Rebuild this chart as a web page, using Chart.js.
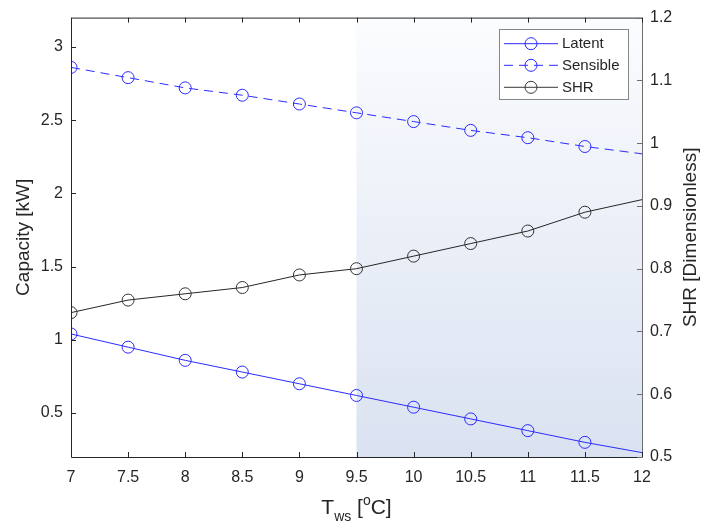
<!DOCTYPE html>
<html>
<head>
<meta charset="utf-8">
<script src="https://cdn.jsdelivr.net/npm/chart.js@4"></script>
<style>
  body { margin: 0; background: #fff; }
  #wrap { width: 701px; height: 523px; }
</style>
</head>
<body>
<div id="wrap"><canvas id="my-chart" width="701" height="523"></canvas></div>
<script>
'use strict';

/* DATA */
let tws = [7, 7.5, 8, 8.5, 9, 9.5, 10, 10.5, 11, 11.5, 12];
let latent = [1.04, 0.95, 0.86, 0.78, 0.70, 0.62, 0.54, 0.46, 0.38, 0.30, 0.23];
let sensible = [2.86, 2.79, 2.72, 2.67, 2.61, 2.55, 2.49, 2.43, 2.38, 2.32, 2.27];
let shr = [0.73, 0.75, 0.76, 0.77, 0.79, 0.80, 0.82, 0.84, 0.86, 0.89, 0.91];
let seriesNames = ['Latent', 'Sensible', 'SHR'];
let xTicks = [7, 7.5, 8, 8.5, 9, 9.5, 10, 10.5, 11, 11.5, 12];
let leftTicks = [0.5, 1, 1.5, 2, 2.5, 3];
let rightTicks = [0.5, 0.6, 0.7, 0.8, 0.9, 1, 1.1, 1.2];
let shadeStart = 9.5;

/* STYLE */
const FONT = "'Liberation Sans', Arial, Helvetica, sans-serif";
const TEXT = '#262626';
const BLUE = '#2b2bff';
const DARK = '#262626';
const DASH = [9, 6];

function pts(arr) {
  return arr.map((v, i) => ({ x: tws[i], y: v }));
}
// no marker on the final point
let markerSize = tws.map((v, i) => (i === tws.length - 1 ? 0 : 6));

let canvasElem = document.getElementById('my-chart').getContext('2d');

/* PLUGINS */
let shadePlugin = {
  id: 'shade',
  beforeDatasetsDraw(chart) {
    let { ctx, chartArea, scales } = chart;
    let x0 = scales.x.getPixelForValue(shadeStart);
    let g = ctx.createLinearGradient(0, chartArea.top, 0, chartArea.bottom);
    g.addColorStop(0, '#fbfcfe');
    g.addColorStop(1, '#dae2f1');
    ctx.save();
    ctx.fillStyle = g;
    ctx.fillRect(x0, chartArea.top, chartArea.right - x0, chartArea.bottom - chartArea.top);
    ctx.restore();
  },
};

let framePlugin = {
  id: 'frame',
  afterDraw(chart) {
    let { ctx, chartArea, scales } = chart;
    let { left, right, top, bottom } = chartArea;
    ctx.save();
    ctx.lineWidth = 1;

    // box
    ctx.strokeStyle = DARK;
    ctx.beginPath();
    ctx.moveTo(left + 0.5, bottom + 0.5);
    ctx.lineTo(left + 0.5, top + 0.5);
    ctx.lineTo(right + 0.5, top + 0.5);
    ctx.moveTo(left + 0.5, bottom + 0.5);
    ctx.lineTo(right + 0.5, bottom + 0.5);
    ctx.stroke();
    ctx.strokeStyle = '#6e6e6e';
    ctx.beginPath();
    ctx.moveTo(right + 0.5, top + 0.5);
    ctx.lineTo(right + 0.5, bottom + 0.5);
    ctx.stroke();

    // inward ticks
    ctx.strokeStyle = DARK;
    ctx.beginPath();
    xTicks.forEach((v) => {
      let px = Math.round(scales.x.getPixelForValue(v)) + 0.5;
      ctx.moveTo(px, bottom);
      ctx.lineTo(px, bottom - 5);
      ctx.moveTo(px, top);
      ctx.lineTo(px, top + 5);
    });
    leftTicks.forEach((v) => {
      let py = Math.round(scales.y.getPixelForValue(v)) + 0.5;
      ctx.moveTo(left, py);
      ctx.lineTo(left + 5, py);
    });
    ctx.stroke();
    ctx.strokeStyle = '#6e6e6e';
    ctx.beginPath();
    rightTicks.forEach((v) => {
      let py = Math.round(scales.y1.getPixelForValue(v)) + 0.5;
      ctx.moveTo(right, py);
      ctx.lineTo(right - 5, py);
    });
    ctx.stroke();

    // axis titles
    ctx.fillStyle = TEXT;
    ctx.font = '19px ' + FONT;
    ctx.textAlign = 'center';
    ctx.textBaseline = 'middle';
    let midY = (top + bottom) / 2;
    ctx.save();
    ctx.translate(24, midY);
    ctx.rotate(-Math.PI / 2);
    ctx.fillText('Capacity [kW]', 0, 0);
    ctx.restore();
    ctx.save();
    ctx.translate(691, midY);
    ctx.rotate(-Math.PI / 2);
    ctx.fillText('SHR [Dimensionless]', 0, 0);
    ctx.restore();

    // x title: T_ws [^oC]
    let big = '21px ' + FONT;
    let small = '14px ' + FONT;
    let parts = [
      { t: 'T', f: big, dy: 0 },
      { t: 'ws', f: small, dy: 7 },
      { t: ' [', f: big, dy: 0 },
      { t: 'o', f: small, dy: -9 },
      { t: 'C]', f: big, dy: 0 },
    ];
    let total = 0;
    parts.forEach((p) => {
      ctx.font = p.f;
      p.w = ctx.measureText(p.t).width;
      total += p.w;
    });
    let x = (left + right) / 2 - total / 2;
    let base = 514;
    ctx.textAlign = 'left';
    ctx.textBaseline = 'alphabetic';
    parts.forEach((p) => {
      ctx.font = p.f;
      ctx.fillText(p.t, x, base + p.dy);
      x += p.w;
    });
    ctx.restore();
  },
};

let legendPlugin = {
  id: 'boxLegend',
  afterDraw(chart) {
    let ctx = chart.ctx;
    let bx = 499.5, by = 29.5, bw = 129, bh = 70;
    let rows = [43.7, 65.3, 87.3];
    let colors = [BLUE, BLUE, '#3a3a3a'];
    let dashes = [[], DASH, []];
    ctx.save();
    ctx.fillStyle = '#ffffff';
    ctx.fillRect(bx, by, bw, bh);
    ctx.strokeStyle = '#858585';
    ctx.lineWidth = 1;
    ctx.strokeRect(bx, by, bw, bh);
    seriesNames.forEach((name, i) => {
      let y = rows[i];
      ctx.strokeStyle = colors[i];
      ctx.setLineDash(dashes[i]);
      ctx.beginPath();
      ctx.moveTo(504, y);
      ctx.lineTo(558, y);
      ctx.stroke();
      ctx.setLineDash([]);
      ctx.beginPath();
      ctx.arc(531, y, 6, 0, Math.PI * 2);
      ctx.stroke();
      ctx.fillStyle = TEXT;
      ctx.font = '15px ' + FONT;
      ctx.textAlign = 'left';
      ctx.textBaseline = 'middle';
      ctx.fillText(name, 562, y + 0.5);
    });
    ctx.restore();
  },
};

/* CHART */
function renderChart() {
  Chart.defaults.font.family = FONT;
  Chart.defaults.font.size = 16;
  Chart.defaults.color = TEXT;

  let myChartObj = {
    type: 'line',
    data: {
      datasets: [
        {
          label: seriesNames[0],
          data: pts(latent),
          yAxisID: 'y',
          borderColor: BLUE,
          borderWidth: 1,
          pointRadius: markerSize,
          pointBorderColor: BLUE,
          pointBackgroundColor: 'rgba(0,0,0,0)',
          pointBorderWidth: 1,
          tension: 0,
        },
        {
          label: seriesNames[1],
          data: pts(sensible),
          yAxisID: 'y',
          borderColor: BLUE,
          borderWidth: 1,
          borderDash: DASH,
          pointRadius: markerSize,
          pointBorderColor: BLUE,
          pointBackgroundColor: 'rgba(0,0,0,0)',
          pointBorderWidth: 1,
          tension: 0,
        },
        {
          label: seriesNames[2],
          data: pts(shr),
          yAxisID: 'y1',
          borderColor: DARK,
          borderWidth: 1,
          pointRadius: markerSize,
          pointBorderColor: '#333333',
          pointBackgroundColor: 'rgba(0,0,0,0)',
          pointBorderWidth: 1,
          tension: 0,
        },
      ],
    },
    options: {
      responsive: false,
      animation: false,
      layout: {
        padding: { top: 15, left: 0, right: 0, bottom: 0 },
      },
      plugins: {
        legend: { display: false },
        tooltip: { enabled: false },
      },
      scales: {
        x: {
          type: 'linear',
          min: 7,
          max: 12,
          afterBuildTicks: (s) => { s.ticks = xTicks.map((v) => ({ value: v })); },
          afterFit: (s) => { s.height = 66; },
          grid: { display: false, drawTicks: false },
          border: { display: false },
          ticks: { padding: 11, maxRotation: 0, callback: (v) => String(v) },
        },
        y: {
          position: 'left',
          min: 0.2,
          max: 3.2,
          afterBuildTicks: (s) => { s.ticks = leftTicks.map((v) => ({ value: v })); },
          afterFit: (s) => { s.width = 71; },
          grid: { display: false, drawTicks: false },
          border: { display: false },
          ticks: { padding: 8, callback: (v) => String(v) },
        },
        y1: {
          position: 'right',
          min: 0.5,
          max: 1.2,
          afterBuildTicks: (s) => { s.ticks = rightTicks.map((v) => ({ value: v })); },
          afterFit: (s) => { s.width = 59; },
          grid: { display: false, drawTicks: false },
          border: { display: false },
          ticks: { padding: 8, callback: (v) => String(v) },
        },
      },
    },
    plugins: [shadePlugin, framePlugin, legendPlugin],
  };
  new Chart(canvasElem, myChartObj);
}
renderChart();
</script>
</body>
</html>
